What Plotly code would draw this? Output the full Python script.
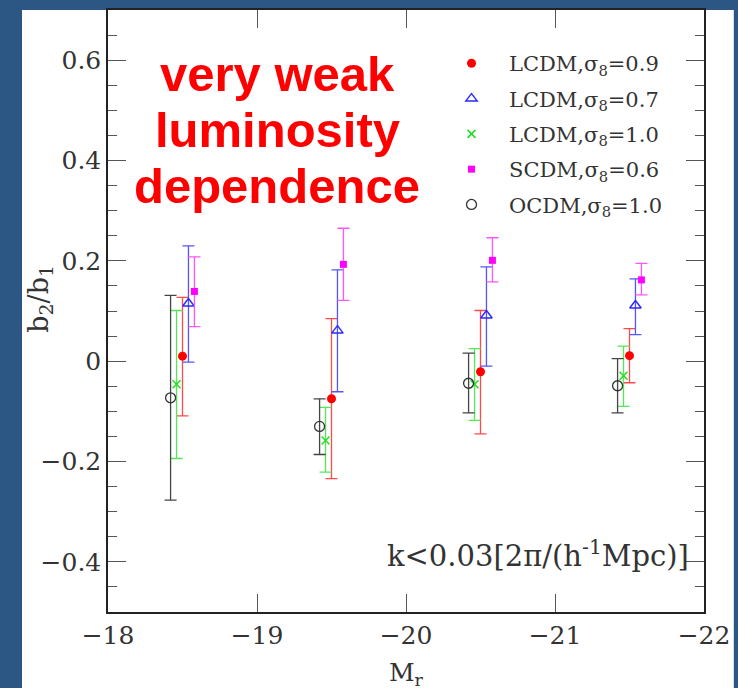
import plotly.graph_objects as go

# Absolute magnitude bins and the small horizontal offset applied to each model
mag_bins = [-18.5, -19.5, -20.5, -21.5]

labels = ["LCDM,σ<sub>8</sub>=0.9", "LCDM,σ<sub>8</sub>=0.7", "LCDM,σ<sub>8</sub>=1.0",
          "SCDM,σ<sub>8</sub>=0.6", "OCDM,σ<sub>8</sub>=1.0"]
x_offsets = [0.0, -0.04, 0.04, -0.08, 0.08]

# b2/b1 values with upper / lower ends of the error bars
lcdm09_y = [0.010, -0.075, -0.021, 0.011]
lcdm09_hi = [0.127, 0.085, 0.101, 0.065]
lcdm09_lo = [-0.109, -0.234, -0.145, -0.043]

lcdm07_y = [0.115, 0.061, 0.091, 0.111]
lcdm07_hi = [0.230, 0.182, 0.188, 0.164]
lcdm07_lo = [-0.002, -0.061, -0.010, 0.053]

lcdm10_y = [-0.046, -0.158, -0.046, -0.029]
lcdm10_hi = [0.101, -0.092, 0.025, 0.030]
lcdm10_lo = [-0.194, -0.221, -0.118, -0.090]

scdm06_y = [0.139, 0.193, 0.201, 0.162]
scdm06_hi = [0.208, 0.265, 0.246, 0.195]
scdm06_lo = [0.069, 0.121, 0.158, 0.132]

ocdm10_y = [-0.073, -0.130, -0.044, -0.049]
ocdm10_hi = [0.131, -0.075, 0.016, 0.005]
ocdm10_lo = [-0.277, -0.186, -0.103, -0.103]

series = [
    (lcdm09_y, lcdm09_hi, lcdm09_lo),
    (lcdm07_y, lcdm07_hi, lcdm07_lo),
    (lcdm10_y, lcdm10_hi, lcdm10_lo),
    (scdm06_y, scdm06_hi, scdm06_lo),
    (ocdm10_y, ocdm10_hi, ocdm10_lo),
]

styles = [
    dict(symbol="circle", color="#ff0000", size=9, line=dict(width=0), bar="#ff4a4a"),
    dict(symbol="triangle-up-open", color="#2a2aff", size=10, line=dict(width=1.4, color="#2a2aff"), bar="#5555ff"),
    dict(symbol="x-thin-open", color="#22dd22", size=8, line=dict(width=1.5, color="#22dd22"), bar="#55e855"),
    dict(symbol="square", color="#ff00ff", size=7, line=dict(width=0), bar="#ff55ff"),
    dict(symbol="circle-open", color="#333333", size=10, line=dict(width=1.3, color="#333333"), bar="#444444"),
]

SERIF = "DejaVu Serif"

fig = go.Figure()
for i, (name, off, (ys, hi, lo), st) in enumerate(zip(labels, x_offsets, series, styles)):
    xs = [m + off for m in mag_bins]
    fig.add_trace(go.Scatter(
        x=xs, y=ys, mode="markers", name=name, legendgroup=f"g{i}",
        marker=dict(symbol=st["symbol"], color=st["color"], size=st["size"], line=st["line"]),
        error_y=dict(type="data", symmetric=False,
                     array=[h - v for h, v in zip(hi, ys)],
                     arrayminus=[v - l for l, v in zip(lo, ys)],
                     color=st["bar"], thickness=1.3, width=6),
    ))

axis_common = dict(
    showline=True, linecolor="#222222", linewidth=1.5, mirror="ticks",
    ticks="inside", ticklen=18, tickwidth=1.3, tickcolor="#555555",
    showgrid=False, zeroline=False,
    tickfont=dict(family=SERIF, size=25, color="#333333"),
)

fig.update_xaxes(range=[-18, -22], tickvals=[-18, -19, -20, -21, -22], **axis_common)
fig.update_yaxes(range=[-0.5, 0.7], tickvals=[-0.4, -0.2, 0, 0.2, 0.4, 0.6],
                 ticktext=["−0.4", "−0.2", "0", "0.2", "0.4", "0.6"],
                 minor=dict(dtick=0.05, ticks="inside", ticklen=9, tickcolor="#555555", tickwidth=1.3),
                 **axis_common)

# white page panel over the blue slide background
fig.add_shape(type="rect", xref="paper", yref="paper", x0=-0.1443, x1=1.05, y0=-0.2, y1=1.0,
              fillcolor="white", line=dict(width=0), layer="below")

for txt, yy in [("very weak", 0.893), ("luminosity", 0.800), ("dependence", 0.707)]:
    fig.add_annotation(text=txt, xref="paper", yref="paper", x=0.2836, y=yy,
                       xanchor="center", yanchor="middle", showarrow=False,
                       font=dict(family="Liberation Sans", size=49, color="#ff0000", weight="bold"))

fig.add_annotation(text="k&lt;0.03[2π/(h<sup>-1</sup>Mpc)]", xref="paper", yref="paper",
                   x=0.978, y=0.096, xanchor="right", yanchor="middle", showarrow=False,
                   font=dict(family=SERIF, size=29, color="#333333"))

fig.add_annotation(text="b<sub>2</sub>/b<sub>1</sub>", xref="paper", yref="paper",
                   x=-0.1128, y=0.52, xanchor="center", yanchor="middle", textangle=-90,
                   showarrow=False, font=dict(family=SERIF, size=27, color="#333333"))

fig.add_annotation(text="M<sub>r</sub>", xref="paper", yref="paper",
                   x=0.5, y=-0.073, xanchor="center", yanchor="top",
                   showarrow=False, font=dict(family=SERIF, size=25, color="#333333"))

fig.update_layout(
    width=738, height=688,
    margin=dict(l=108, r=27, t=8, b=76),
    paper_bgcolor="#2c5683", plot_bgcolor="white",
    showlegend=True,
    legend=dict(x=0.547, y=0.945, xanchor="left", yanchor="top", itemwidth=65,
                bgcolor="rgba(0,0,0,0)", traceorder="grouped", tracegroupgap=5,
                font=dict(family=SERIF, size=21, color="#333333")),
)

fig.write_html("out.html")
